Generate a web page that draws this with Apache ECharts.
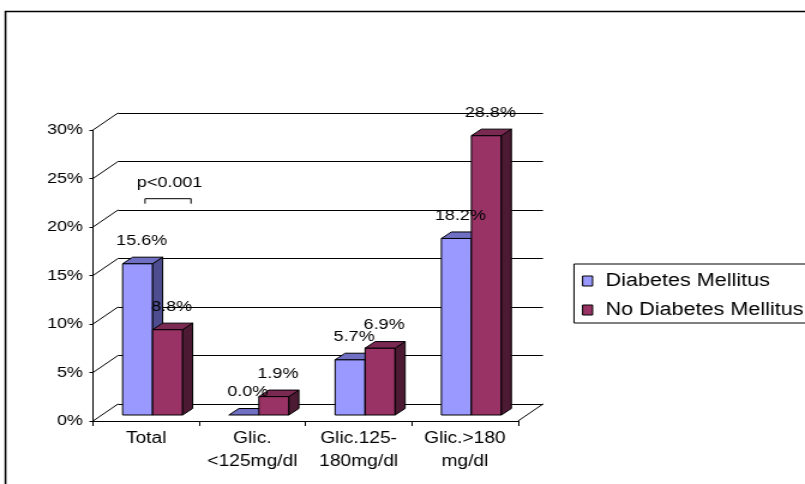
<!DOCTYPE html>
<html>
<head>
<meta charset="utf-8">
<script src="https://cdn.jsdelivr.net/npm/echarts@6/dist/echarts.min.js"></script>
<style>
  html, body { margin: 0; padding: 0; overflow: hidden; background: #fff; }
  /* the chart is laid out narrower and widened with a horizontal stretch */
  #chart { width: 671px; height: 484px; transform: scaleX(1.19970); transform-origin: 0 0; }
</style>
</head>
<body>
<div id="chart"></div>
<script>
// ---- data ----
const categories = ['Total', 'Glic.\n<125mg/dl', 'Glic.125-\n180mg/dl', 'Glic.>180\nmg/dl'];
const seriesNames = ['Diabetes Mellitus', 'No Diabetes Mellitus'];
const diabetes = [15.6, 0.0, 5.7, 18.2];
const noDiabetes = [8.8, 1.9, 6.9, 28.8];
const yTicks = [0, 5, 10, 15, 20, 25, 30];
const pValueText = 'p<0.001';
const pValueAt = [0, 22.3];   // category index, value of the bracket

// ---- layout (page pixels, converted to the unstretched drawing space) ----
const SX = 805 / 671;
const X = v => v / SX;
const FONT = '"Liberation Sans", Arial, sans-serif';

const BACK = { left: X(118), top: 113, width: X(425), height: 291 };
const FRONT = { left: X(93), top: 130, width: X(425), height: 291 };
const DEPTH_X = BACK.left - FRONT.left;   // front -> back wall
const DEPTH_Y = BACK.top - FRONT.top;
const BAR_SHIFT_X = X(-18.5);           // bar plane relative to back wall
const BAR_SHIFT_Y = 11;
const BAR_W = X(30);
const BAR_DX = X(10);                   // bar depth
const BAR_DY = -6.5;

const palettes = [
  { front: '#9999FF', top: '#6f6fc4', side: '#4d4d8f' },
  { front: '#993366', top: '#7a2952', side: '#4d1a34' }
];

function barSeries(slot, name, values) {
  const pal = palettes[slot];
  return {
    type: 'custom',
    name: name,
    xAxisIndex: 0,
    yAxisIndex: 0,
    z: 3,
    itemStyle: { color: pal.front },
    data: values.map((v, i) => [i, v]),
    renderItem: function (params, api) {
      const c = api.value(0), v = api.value(1);
      const top = api.coord([c, v]);
      const base = api.coord([c, 0]);
      const x0 = top[0] + BAR_SHIFT_X + (slot === 0 ? -BAR_W : 0);
      const x1 = x0 + BAR_W;
      const yT = top[1] + BAR_SHIFT_Y;
      const yB = base[1] + BAR_SHIFT_Y;
      const edge = { stroke: '#000', lineWidth: 1, lineJoin: 'round' };
      const kids = [];
      if (yB - yT > 0.5) {
        kids.push({ type: 'polygon', shape: { points: [[x0, yB], [x1, yB], [x1, yT], [x0, yT]] },
          style: Object.assign({ fill: pal.front }, edge) });
        kids.push({ type: 'polygon', shape: { points: [[x1, yB], [x1 + BAR_DX, yB + BAR_DY], [x1 + BAR_DX, yT + BAR_DY], [x1, yT]] },
          style: Object.assign({ fill: pal.side }, edge) });
      }
      kids.push({ type: 'polygon', shape: { points: [[x0, yT], [x1, yT], [x1 + BAR_DX, yT + BAR_DY], [x0 + BAR_DX, yT + BAR_DY]] },
        style: Object.assign({ fill: pal.top }, edge) });
      kids.push({ type: 'text', z2: 100,
        style: { text: v.toFixed(1) + '%', x: (x0 + x1) / 2 + X(4), y: yT - 23,
          align: 'center', verticalAlign: 'middle', fontSize: 15, fontFamily: FONT, fill: '#000' } });
      return { type: 'group', children: kids };
    }
  };
}

// side wall and floor edges, tied to the back-wall axes
const frameSeries = {
  type: 'custom',
  silent: true,
  xAxisIndex: 0,
  yAxisIndex: 0,
  z: 1,
  data: yTicks.map(v => [0, v]),
  renderItem: function (params, api) {
    const cs = params.coordSys;
    const y = api.coord([0, api.value(1)])[1];
    const st = { stroke: '#000', lineWidth: 1 };
    const kids = [{ type: 'line', shape: { x1: cs.x, y1: y, x2: cs.x - DEPTH_X, y2: y - DEPTH_Y }, style: st }];
    if (api.value(1) === 0) {
      const xr = cs.x + cs.width;
      kids.push({ type: 'line', shape: { x1: xr, y1: y, x2: xr - DEPTH_X, y2: y - DEPTH_Y }, style: st });
    }
    return { type: 'group', children: kids };
  }
};

// significance bracket over the first group
const pValueSeries = {
  type: 'custom',
  silent: true,
  xAxisIndex: 0,
  yAxisIndex: 0,
  z: 4,
  data: [pValueAt],
  renderItem: function (params, api) {
    const p = api.coord([api.value(0), api.value(1)]);
    const cx = p[0] + BAR_SHIFT_X;
    const y = p[1] + BAR_SHIFT_Y;
    const xl = cx - X(7.6), xr = cx + X(38.4);
    return { type: 'group', children: [
      { type: 'polyline', shape: { points: [[xl, y + 5], [xl, y], [xr, y], [xr, y + 5]] },
        style: { stroke: '#000', lineWidth: 1, fill: null } },
      { type: 'text', style: { text: pValueText, x: cx + X(17), y: y - 16, align: 'center',
        verticalAlign: 'middle', fontSize: 15, fontFamily: FONT, fill: '#000' } }
    ] };
  }
};

const chart = echarts.init(document.getElementById('chart'), null, { renderer: 'canvas' });
chart.setOption({
  animation: false,
  backgroundColor: '#fff',
  textStyle: { fontFamily: FONT },
  graphic: [{
    type: 'rect', silent: true, z: 0,
    shape: { x: X(5.5), y: 11.5, width: 800, height: 600 },
    style: { fill: 'none', stroke: '#000', lineWidth: 1.5 }
  }],
  legend: {
    orient: 'vertical',
    left: X(574), top: 264,
    padding: [8, 2, 4, X(8)],
    itemWidth: X(10), itemHeight: 10, itemGap: 11,
    icon: 'rect',
    itemStyle: { borderColor: '#000', borderWidth: 1 },
    borderColor: '#000', borderWidth: 1,
    textStyle: { fontSize: 18, lineHeight: 18, fontFamily: FONT, color: '#000', padding: [0, 0, 0, X(13) - 5] },
    data: seriesNames
  },
  grid: [
    { left: BACK.left, top: BACK.top, width: BACK.width, height: BACK.height },
    { left: FRONT.left, top: FRONT.top, width: FRONT.width, height: FRONT.height }
  ],
  xAxis: [
    { type: 'category', gridIndex: 0, data: categories, show: false },
    { type: 'category', gridIndex: 1, data: categories,
      axisLine: { lineStyle: { color: '#000', width: 1 } },
      axisTick: { show: true, length: 5, lineStyle: { color: '#000' } },
      axisLabel: { interval: 0, margin: 6, fontSize: 16, lineHeight: 23, color: '#000', fontFamily: FONT } }
  ],
  yAxis: [
    { type: 'value', gridIndex: 0, min: 0, max: 30, interval: 5,
      axisLine: { show: false }, axisTick: { show: false }, axisLabel: { show: false },
      splitLine: { show: true, lineStyle: { color: '#000', width: 1 } } },
    { type: 'value', gridIndex: 1, min: 0, max: 30, interval: 5,
      axisLine: { show: true, lineStyle: { color: '#000', width: 1 } },
      axisTick: { show: true, length: 3, lineStyle: { color: '#000' } },
      axisLabel: { formatter: '{value}%', margin: X(10), fontSize: 15, color: '#000', fontFamily: FONT },
      splitLine: { show: false } }
  ],
  series: [
    frameSeries,
    barSeries(0, seriesNames[0], diabetes),
    barSeries(1, seriesNames[1], noDiabetes),
    pValueSeries
  ]
});
</script>
</body>
</html>
